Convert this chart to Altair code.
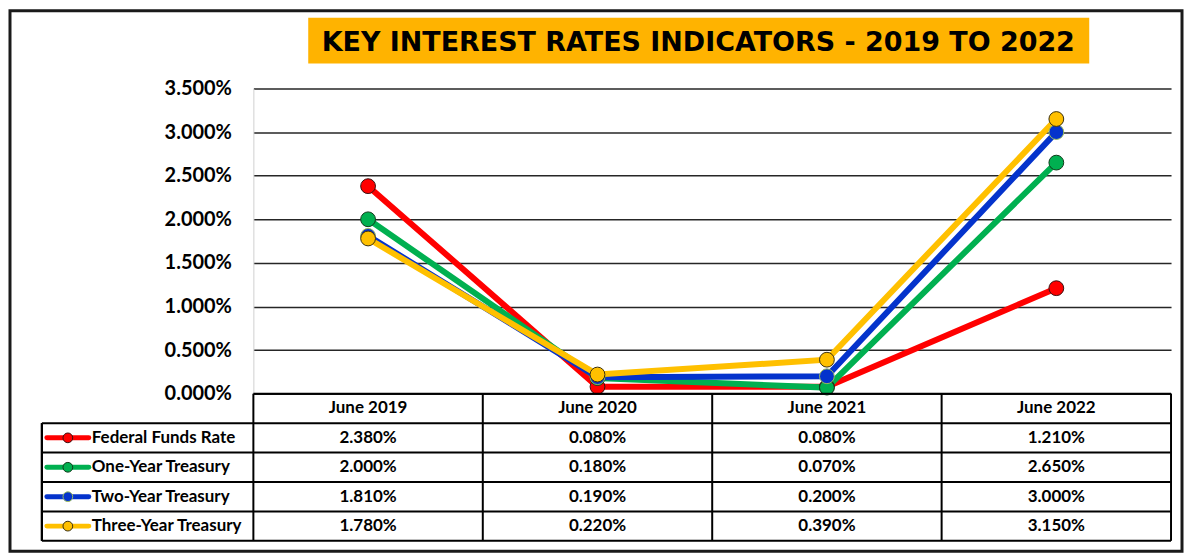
import altair as alt
import pandas as pd

# ---------------- data ----------------
dates = ["June 2019", "June 2020", "June 2021", "June 2022"]
series = ["Federal Funds Rate", "One-Year Treasury", "Two-Year Treasury", "Three-Year Treasury"]
fed_funds = [2.38, 0.08, 0.08, 1.21]
one_year = [2.00, 0.18, 0.07, 2.65]
two_year = [1.81, 0.19, 0.20, 3.00]
three_year = [1.78, 0.22, 0.39, 3.15]
y_ticks = [0, 0.5, 1.0, 1.5, 2.0, 2.5, 3.0, 3.5]
title_text = "KEY INTEREST RATES INDICATORS - 2019 TO 2022"

line_colors = ["#FF0000", "#00B050", "#0433CC", "#FFC000"]
marker_strokes = ["#3A1010", "#103A1A", "#9BBB59", "#3A3010"]

records = []
for s, vals in zip(series, [fed_funds, one_year, two_year, three_year]):
    for d, v in zip(dates, vals):
        records.append({"series": s, "date": d, "value": v})
df = pd.DataFrame(records)

# ---------------- layout ----------------
W, H = 1175, 542
PX0, PX1 = 244, 1164          # plot x range
PY0, PY1 = 384, 78            # value axis range (0 -> 3.5)
TY0, TY1 = 384, 531.5         # table rows range
LX = 32                       # table legend column left
FONT = "Lato"

x_scale = alt.Scale(type="band", domain=dates, range=[PX0, PX1], paddingInner=0, paddingOuter=0)
y_scale = alt.Scale(domain=[0, 3.5], range=[PY0, PY1], nice=False, zero=True)
row_domain = ["header"] + series
row_scale = alt.Scale(type="band", domain=row_domain, range=[TY0, TY1], paddingInner=0, paddingOuter=0)
color_scale = alt.Scale(domain=series, range=line_colors)
stroke_scale = alt.Scale(domain=series, range=marker_strokes)

X = alt.X("date:N", scale=x_scale, axis=None, sort=dates)

# title
title_df = pd.DataFrame({"t": [title_text]})
title_rect = alt.Chart(title_df).mark_rect(color="#FFB300").encode(
    x=alt.value(299), x2=alt.value(1082), y=alt.value(7), y2=alt.value(53)
)
title_txt = alt.Chart(title_df).mark_text(
    font="DejaVu Sans", fontSize=27, fontWeight="bold", color="black", align="center", baseline="middle"
).encode(x=alt.value(690), y=alt.value(32), text="t:N")

# lines and points
lines = alt.Chart(df).mark_line(strokeWidth=6, strokeCap="round").encode(
    x=X,
    y=alt.Y(
        "value:Q",
        scale=y_scale,
        axis=alt.Axis(
            values=y_ticks,
            labelExpr="format(datum.value, '.3f') + '%'",
            grid=True,
            gridColor="#262626",
            gridWidth=1.5,
            domain=True,
            domainColor="#D0D0D0",
            domainWidth=1,
            ticks=False,
            tickSize=0,
            labelPadding=22,
            offset=-PX0,
            labelFont=FONT,
            labelFontSize=20,
            labelFontWeight="bold",
            labelColor="black",
            title=None,
        ),
    ),
    color=alt.Color("series:N", scale=color_scale, legend=None),
)
points = alt.Chart(df).mark_circle(size=220, opacity=1, strokeWidth=1).encode(
    x=X,
    y=alt.Y("value:Q", scale=y_scale, axis=None),
    fill=alt.Fill("series:N", scale=color_scale, legend=None),
    stroke=alt.Stroke("series:N", scale=stroke_scale, legend=None),
)

# table grid
rows_df = pd.DataFrame({"row": series})
h_series = alt.Chart(rows_df).mark_rule(color="black", strokeWidth=2).encode(
    y=alt.Y("row:N", scale=row_scale, axis=None, bandPosition=0),
    x=alt.value(LX), x2=alt.value(PX1),
)
h_bottom = alt.Chart(pd.DataFrame({"row": [series[-1]]})).mark_rule(color="black", strokeWidth=2).encode(
    y=alt.Y("row:N", scale=row_scale, axis=None, bandPosition=1),
    x=alt.value(LX), x2=alt.value(PX1),
)
h_header = alt.Chart(pd.DataFrame({"row": ["header"]})).mark_rule(color="black", strokeWidth=2).encode(
    y=alt.Y("row:N", scale=row_scale, axis=None, bandPosition=0),
    x=alt.value(PX0), x2=alt.value(PX1),
)
dates_df = pd.DataFrame({"date": dates})
v_cols = alt.Chart(dates_df).mark_rule(color="black", strokeWidth=2).encode(
    x=alt.X("date:N", scale=x_scale, axis=None, bandPosition=0),
    y=alt.value(TY0), y2=alt.value(TY1),
)
v_last = alt.Chart(pd.DataFrame({"date": [dates[-1]]})).mark_rule(color="black", strokeWidth=2).encode(
    x=alt.X("date:N", scale=x_scale, axis=None, bandPosition=1),
    y=alt.value(TY0), y2=alt.value(TY1),
)
v_left = alt.Chart(rows_df).mark_rule(color="black", strokeWidth=2).encode(
    x=alt.value(LX), y=alt.value(TY0 + (TY1 - TY0) / 5), y2=alt.value(TY1)
)

# table texts
txt_props = dict(font=FONT, fontSize=17, fontWeight="bold", color="black", baseline="middle")
header_txt = alt.Chart(pd.DataFrame({"date": dates, "row": ["header"] * 4})).mark_text(
    align="center", **txt_props
).encode(x=X, y=alt.Y("row:N", scale=row_scale, axis=None), text="date:N")
value_txt = alt.Chart(df).transform_calculate(
    label="format(datum.value, '.3f') + '%'"
).mark_text(align="center", **txt_props).encode(
    x=X, y=alt.Y("series:N", scale=row_scale, axis=None), text="label:N"
)

# legend inside table
leg_df = pd.DataFrame({"series": series})
leg_line = alt.Chart(leg_df).mark_rule(strokeWidth=5, strokeCap="round").encode(
    x=alt.value(37), x2=alt.value(79),
    y=alt.Y("series:N", scale=row_scale, axis=None),
    color=alt.Color("series:N", scale=color_scale, legend=None),
)
leg_pt = alt.Chart(leg_df).mark_circle(size=95, opacity=1, strokeWidth=1).encode(
    x=alt.value(58),
    y=alt.Y("series:N", scale=row_scale, axis=None),
    fill=alt.Fill("series:N", scale=color_scale, legend=None),
    stroke=alt.Stroke("series:N", scale=stroke_scale, legend=None),
)
leg_txt = alt.Chart(leg_df).mark_text(align="left", **txt_props).encode(
    x=alt.value(82),
    y=alt.Y("series:N", scale=row_scale, axis=None),
    text="series:N",
)

chart = alt.layer(
    title_rect, title_txt,
    lines, points,
    h_series, h_bottom, h_header, v_cols, v_last, v_left,
    header_txt, value_txt,
    leg_line, leg_pt, leg_txt,
).resolve_scale(y="independent").properties(
    width=W, height=H,
    autosize=alt.AutoSizeParams(type="none"),
    padding={"left": 2, "top": 2, "right": 2, "bottom": 2},
).configure_view(stroke="#1a1a1a", strokeWidth=3)

chart.save("out.html", embed_options={"renderer": "svg", "actions": False})
